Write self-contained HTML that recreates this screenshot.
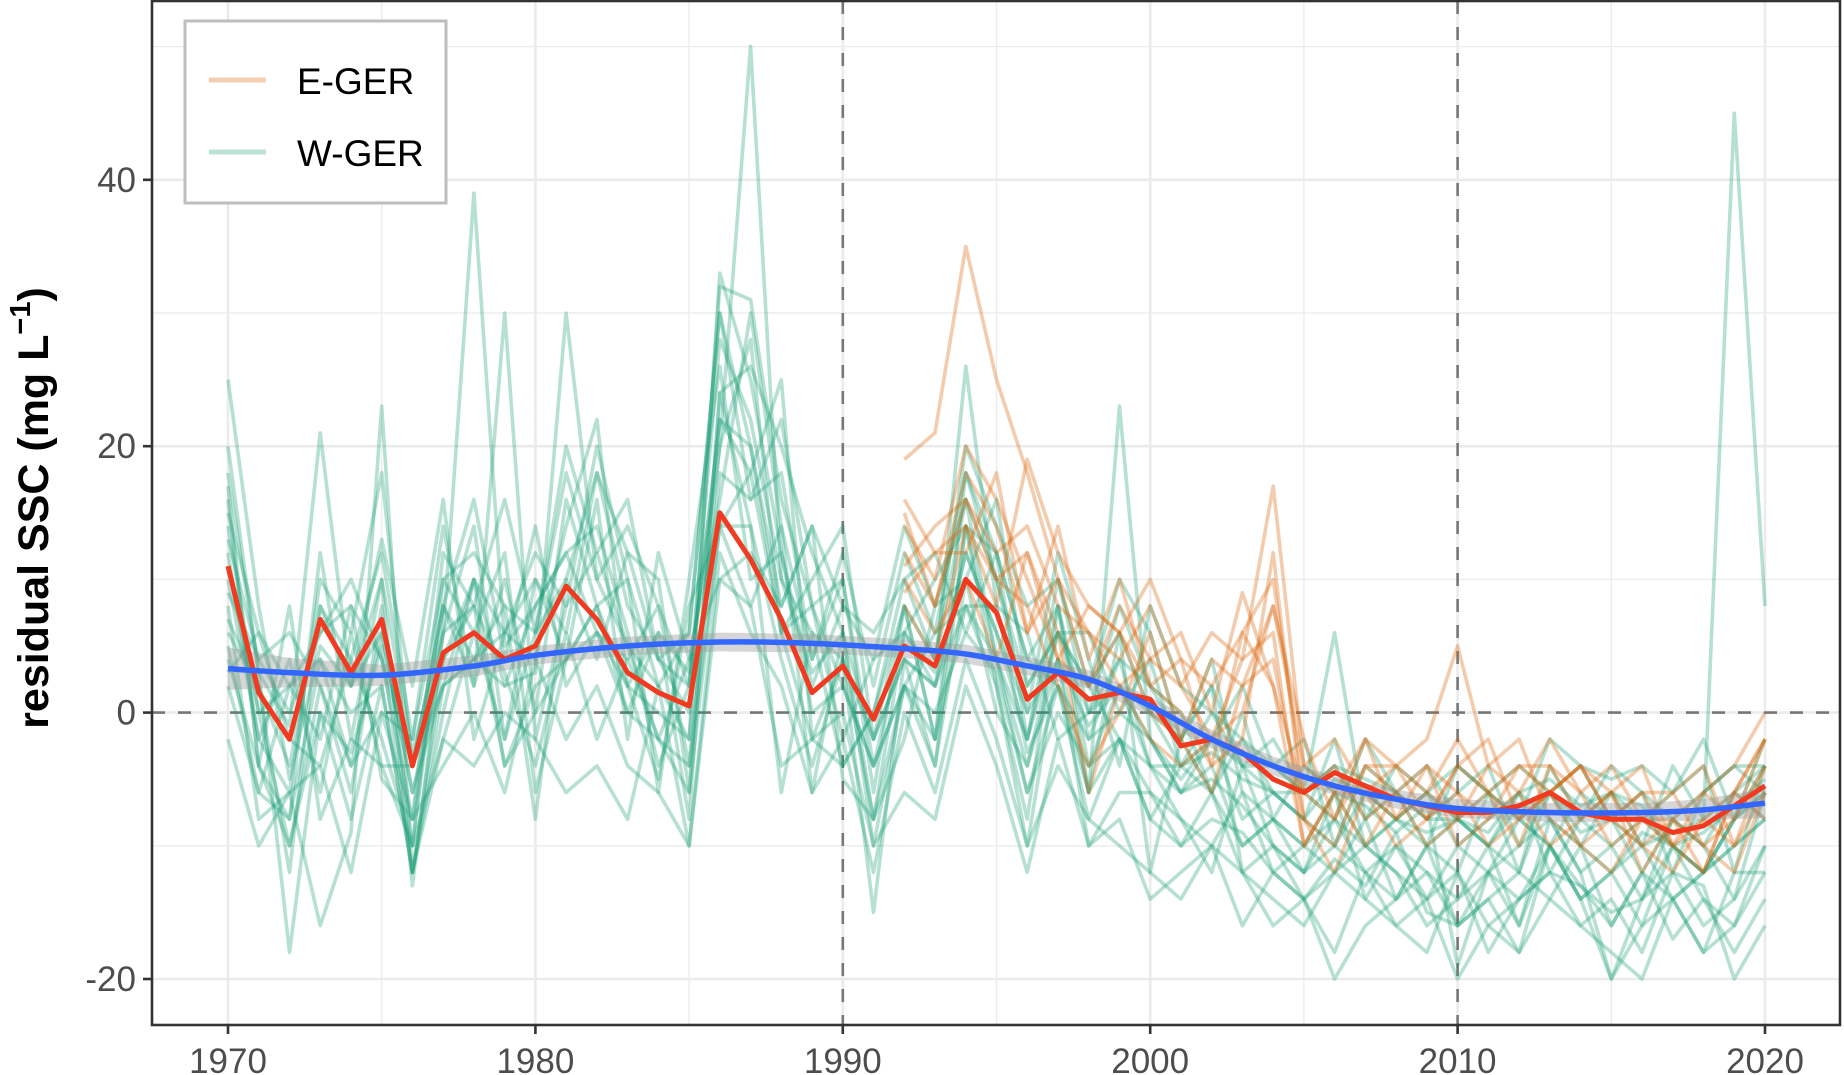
<!DOCTYPE html>
<html><head><meta charset="utf-8"><style>
html,body{margin:0;padding:0;background:#fff;}
svg{display:block;font-family:"Liberation Sans",Arial,sans-serif;}
</style></head><body>
<svg id="chart" width="1844" height="1075" viewBox="0 0 1844 1075" xmlns="http://www.w3.org/2000/svg">
<rect x="0" y="0" width="1844" height="1075" fill="#fff"/>
<g id="grid"></g>
<g id="refs"></g>
<g id="series"></g>
<g id="axes"></g>
<text transform="translate(48,508) rotate(-90)" text-anchor="middle" font-size="43" font-weight="bold" fill="#000">residual SSC (mg L<tspan font-size="29" dy="-18">−1</tspan><tspan dy="18">)</tspan></text>
<g>
<rect x="185" y="21" width="261" height="182" fill="#fff" stroke="#bebebe" stroke-width="3"/>
<g><line x1="209" y1="80" x2="266" y2="80" stroke="#d95f02" stroke-opacity="0.3" stroke-width="5"/><text x="297" y="94" font-size="37" fill="#000">E-GER</text></g>
<g><line x1="209" y1="152" x2="266" y2="152" stroke="#1b9e77" stroke-opacity="0.3" stroke-width="5"/><text x="297" y="166" font-size="37" fill="#000">W-GER</text></g>
</g>
</svg>
<script>
const xTicks=[1970,1980,1990,2000,2010,2020];
const yTicks=[-20,0,20,40];
const years=[];for(let y=1970;y<=2020;y++)years.push(y);
const eYears=[];for(let y=1992;y<=2020;y++)eYears.push(y);
const wSeries=[
[25,8,-5,5,2,10,-3,6,39,5,8,12,6,2,0,-2,20,50,10,3,6,-2,4,2,12,6,0,4,-1,2,0,-4,-3,-5,-6,-8,-5,-6,-8,-9,-8,-10,-7,-6,-9,-8,-10,-9,-8,45,8],
[18,3,-18,0,-3,5,-12,2,4,2,3,30,10,5,2,-2,33,25,12,0,2,-4,6,3,26,8,-3,2,-2,0,-2,-6,-5,-7,-10,-12,-8,-10,-12,-14,-12,-18,-14,-12,-13,-15,-14,-12,-13,-20,-16],
[12,-2,-6,10,6,18,-4,8,2,30,-2,8,12,5,-2,4,10,12,8,14,-5,-8,6,2,8,4,-2,6,0,4,2,-2,4,-6,-8,-10,-6,-7,-9,-7,-19,-12,-10,-8,-12,-20,-14,-10,-12,-8,-6],
[5,-6,2,-2,8,-5,-8,6,8,3,-4,6,-2,4,-2,-6,14,8,14,4,10,-4,2,0,6,3,-6,0,-4,-2,-6,-10,-8,-9,-12,-14,-11,-13,-9,-15,-16,-12,-14,-10,-13,-16,-12,-17,-14,-16,-10],
[20,3,-1,21,2,13,2,16,-2,6,4,14,22,2,-5,8,14,18,25,-2,-4,0,10,12,6,12,4,2,-6,23,-2,-5,-2,-4,-6,-6,-4,-5,-6,-8,-8,-9,-6,-5,-7,-6,-7,-10,-9,-7,-5],
[8,-8,-6,-16,-9,23,-12,0,10,-4,2,4,8,0,6,3,20,28,6,-2,4,-15,4,-4,14,2,-8,8,-6,6,-12,-2,2,-12,-16,-14,-20,-16,-14,-12,-16,-14,-18,-10,-14,-20,-16,-14,-12,-8,-6],
[15,6,2,4,-4,0,-2,10,12,8,6,10,18,8,4,6,30,20,6,8,2,-4,2,6,8,8,6,-2,0,2,-4,-6,-2,2,-4,-6,6,-8,-4,-6,-4,-6,-8,-2,-4,-5,-4,-6,-2,-8,-2],
[4,-4,8,-8,-2,-4,-4,2,4,8,-8,10,4,12,10,-6,24,14,-6,6,4,-2,8,-2,14,4,-4,6,2,-2,-8,-4,-6,-10,-8,-10,-12,-8,-14,-10,-8,-10,-12,-6,-10,-12,-9,-10,-12,-10,-8],
[10,-2,4,-6,6,-4,-10,8,16,4,14,2,6,4,8,-4,18,16,18,4,12,2,12,6,18,10,0,12,4,-4,8,2,0,-4,-2,-6,-8,-2,-6,-10,-4,-6,-12,-4,-8,-10,-8,-6,-4,-12,-4],
[2,-6,-8,4,0,2,-12,-2,-4,0,-2,-6,-4,-8,2,-10,12,6,2,-6,-2,-12,0,-6,4,-2,-10,-4,-8,-10,-12,-14,-10,-12,-14,-16,-12,-14,-16,-18,-12,-16,-14,-12,-16,-14,-18,-12,-16,-14,-10],
[6,2,-4,8,2,6,-6,4,10,2,8,12,14,6,-4,2,22,18,6,10,14,-2,4,2,12,6,-2,8,-2,4,-4,-4,-2,-8,-6,-8,-10,-6,-8,-10,-12,-6,-8,-10,-6,-8,-12,-8,-10,-6,-8],
[9,4,0,6,10,4,-8,12,8,16,6,18,10,14,8,2,28,22,10,6,-4,0,8,4,20,14,8,10,2,6,0,-2,-6,0,-8,-4,-6,-10,-8,-6,-10,-8,-6,-12,-8,-6,-10,-4,-8,-6,-4],
[14,0,-10,2,-6,8,-10,-2,6,-2,10,4,16,-2,12,4,16,30,14,-6,6,-8,-2,8,16,4,-6,2,-8,-2,-4,-8,-12,-4,-10,-12,-6,-14,-10,-12,-14,-10,-16,-8,-12,-10,-14,-8,-10,-14,-6],
[3,6,-2,-4,4,12,-2,14,2,10,0,16,8,10,-6,10,26,10,12,2,8,4,14,8,10,16,2,6,6,0,4,-4,0,-2,-4,-2,-10,-4,-6,-8,-6,-4,-10,-6,-4,-8,-6,-12,-6,-4,-6],
[16,-4,-8,12,-2,10,-13,6,14,-2,6,20,12,16,4,0,32,31,16,8,10,-6,8,-2,18,12,4,8,-4,2,-2,-6,-4,-10,-8,-12,-10,-12,-14,-10,-16,-14,-12,-14,-10,-16,-12,-14,-18,-12,-12],
[7,2,-12,8,4,-2,-10,10,6,12,-6,4,8,2,6,-8,24,26,20,12,6,-10,2,-4,10,0,-4,4,-10,-6,-6,-8,-10,-6,-12,-10,-8,-12,-10,-14,-10,-12,-8,-10,-14,-12,-10,-14,-12,-10,-8],
[13,4,6,2,-4,6,-6,2,10,6,12,8,20,10,2,6,30,16,22,8,-2,4,6,10,14,12,-2,10,0,8,2,0,-6,-2,-6,-8,-2,-10,-8,-6,-8,-10,-6,-8,-10,-6,-8,-10,-12,-8,-4],
[-2,-10,-6,-4,-12,0,-8,-4,0,-6,4,-2,2,-4,-6,-10,10,8,-4,-2,0,-10,-6,-8,2,-4,-12,-2,-10,-8,-14,-12,-10,-16,-12,-14,-18,-12,-16,-14,-20,-16,-18,-14,-16,-18,-20,-14,-18,-16,-12],
[11,0,2,6,8,4,-4,8,4,6,10,6,18,12,4,2,22,20,8,14,8,6,10,4,16,10,2,6,2,10,6,-2,2,-4,-4,-6,-4,-8,-6,-4,-8,-6,-4,-6,-8,-4,-6,-8,-6,-4,-4],
[17,-4,-10,0,-8,2,-12,4,8,-4,0,4,6,0,-2,-4,14,14,4,-4,4,-8,2,-2,8,2,-10,4,-6,-2,-8,-10,-6,-12,-10,-14,-12,-10,-12,-16,-14,-12,-16,-10,-14,-12,-16,-10,-14,-18,-14]
];
const eSeries=[
[19,21,35,25,18,10,6,4,8,2,6,4,17,-4,-2,-6,-4,-2,5,-4,-6,-2,-6,-4,-8,-10,-6,-4,0],
[16,12,14,8,19,12,8,6,10,4,2,6,10,-6,-8,-4,-6,-8,-4,-2,-8,-6,-4,-8,-6,-10,-12,-6,-2],
[12,8,18,14,6,14,4,10,2,0,-4,-2,12,-8,-12,-6,-8,-4,-10,-8,-6,-10,-8,-6,-12,-8,-10,-8,-4],
[10,6,10,4,12,6,-6,2,-2,-4,-2,4,6,-10,-6,-10,-6,-10,-8,-4,-2,-8,-10,-12,-8,-6,-4,-10,-6],
[14,10,20,16,10,4,2,8,4,2,-2,0,8,-4,-6,-2,-8,-6,-2,-6,-4,-4,-6,-10,-8,-8,-12,-6,-2],
[8,4,14,10,8,2,-4,0,6,-2,-6,2,4,-8,-10,-4,-4,-8,-6,-10,-8,-6,-10,-8,-10,-12,-8,-10,-4],
[11,14,16,12,14,8,6,2,4,6,0,9,2,-6,-4,-8,-6,-4,-6,-8,-4,-6,-4,-6,-10,-8,-6,-8,-2],
[9,12,12,18,6,10,2,6,0,-2,4,2,8,-2,-8,-2,-4,-6,-8,-6,-10,-4,-8,-6,-4,-10,-8,-6,-8],
[15,8,16,10,12,4,8,6,2,4,-4,6,2,-10,-6,-6,-10,-8,-4,-6,-8,-6,-4,-8,-6,-6,-10,-12,-6]
];
const meanValues=[11,1.5,-2,7,3,7,-4,4.5,6,4,5,9.5,7,3,1.5,0.5,15,11.5,7,1.5,3.5,-0.5,5,3.5,10,7.5,1,3,1,1.5,1,-2.5,-2,-3,-5,-6,-4.5,-5.5,-6.5,-7,-7.5,-7.5,-7,-6,-7.5,-8,-8,-9,-8.5,-7,-5.5];
const smoothYears=[1970,1972,1975,1978,1980,1983,1986,1989,1992,1994,1996,1998,2000,2002,2004,2006,2008,2010,2013,2016,2018,2020];
const smoothValues=[3.3,3,2.8,3.5,4.3,5,5.3,5.2,4.8,4.4,3.5,2.5,0.5,-2,-4,-5.5,-6.5,-7.2,-7.5,-7.5,-7.3,-6.8];
const smoothSE=[1.6,1.1,0.8,0.8,0.7,0.7,0.7,0.7,0.7,0.7,0.7,0.7,0.7,0.7,0.7,0.7,0.7,0.7,0.7,0.7,0.8,1.1];

const L=152,R=1840,T=1,B=1025;
const X=y=>228+(y-1970)*(1765-228)/50;
const Y=v=>712.6-v*13.32;
const NS='http://www.w3.org/2000/svg';
function mk(tag,attrs,parent){const e=document.createElementNS(NS,tag);for(const k in attrs)e.setAttribute(k,attrs[k]);parent.appendChild(e);return e;}
const grid=document.getElementById('grid'),refs=document.getElementById('refs'),ser=document.getElementById('series'),axes=document.getElementById('axes');
for(let y=1965;y<=2025;y+=10){if(X(y)<L||X(y)>R)continue;const l=mk('line',{x1:X(y),x2:X(y),y1:T,y2:B,stroke:'#ebebeb','stroke-width':1.3},grid);

}
for(let v=-30;v<=50;v+=20){if(Y(v)<T||Y(v)>B)continue;const l=mk('line',{x1:L,x2:R,y1:Y(v),y2:Y(v),stroke:'#ebebeb','stroke-width':1.3},grid);

}
xTicks.forEach(t=>{const l=mk('line',{x1:X(t),x2:X(t),y1:T,y2:B,stroke:'#ebebeb','stroke-width':2.6},grid);

});
yTicks.forEach(t=>{const l=mk('line',{x1:L,x2:R,y1:Y(t),y2:Y(t),stroke:'#ebebeb','stroke-width':2.6},grid);

});
function pathFrom(xs,vs){let d='',pen=false;vs.forEach((v,i)=>{if(v==null){pen=false;return;}d+=(pen?'L':'M')+X(xs[i]).toFixed(1)+','+Y(v).toFixed(1);pen=true;});return d;}
wSeries.forEach((s,i)=>{const p=mk('path',{d:pathFrom(years,s),fill:'none',stroke:'#1b9e77','stroke-opacity':0.32,'stroke-width':3.6,'stroke-linejoin':'round'},ser);

});
eSeries.forEach((s,i)=>{const p=mk('path',{d:pathFrom(eYears,s),fill:'none',stroke:'#d95f02','stroke-opacity':0.32,'stroke-width':3.6,'stroke-linejoin':'round'},ser);

});
[1990,2010].forEach(y=>{const l=mk('line',{x1:X(y),x2:X(y),y1:T,y2:B,stroke:'#777','stroke-width':2.6,'stroke-dasharray':'13,13'},refs);

});
{const l=mk('line',{x1:L,x2:R,y1:Y(0),y2:Y(0),stroke:'#777','stroke-width':2.6,'stroke-dasharray':'13,13'},refs);

}
{let d='';smoothYears.forEach((y,i)=>{d+=(i?'L':'M')+X(y)+','+Y(smoothValues[i]+smoothSE[i]);});
for(let i=smoothYears.length-1;i>=0;i--)d+='L'+X(smoothYears[i])+','+Y(smoothValues[i]-smoothSE[i]);d+='Z';
const r=mk('path',{d:d,fill:'#999','fill-opacity':0.4},ser);

}
{const p=mk('path',{d:pathFrom(years,meanValues),fill:'none',stroke:'#f03b20','stroke-width':5,'stroke-linejoin':'round'},ser);

}
{const pts=smoothYears.map((y,i)=>[X(y),Y(smoothValues[i])]);let d='M'+pts[0];
for(let i=0;i<pts.length-1;i++){const p0=pts[Math.max(0,i-1)],p1=pts[i],p2=pts[i+1],p3=pts[Math.min(pts.length-1,i+2)];
d+='C'+(p1[0]+(p2[0]-p0[0])/6)+','+(p1[1]+(p2[1]-p0[1])/6)+' '+(p2[0]-(p3[0]-p1[0])/6)+','+(p2[1]-(p3[1]-p1[1])/6)+' '+p2;}
const p=mk('path',{d:d,fill:'none',stroke:'#3366ff','stroke-width':5.5},ser);

}
{const f=mk('rect',{x:L,y:T,width:R-L,height:B-T,fill:'none',stroke:'#333','stroke-width':2.6},axes);

}
xTicks.forEach(t=>{const l=mk('line',{x1:X(t),x2:X(t),y1:B,y2:B+9,stroke:'#333','stroke-width':2.6},axes);


const tx=mk('text',{x:X(t),y:1073,'text-anchor':'middle','font-size':35,fill:'#4d4d4d'},axes);tx.textContent=t;

});
yTicks.forEach(t=>{const l=mk('line',{x1:L-9,x2:L,y1:Y(t),y2:Y(t),stroke:'#333','stroke-width':2.6},axes);


const tx=mk('text',{x:L-16,y:Y(t)+12,'text-anchor':'end','font-size':35,fill:'#4d4d4d'},axes);tx.textContent=t;

});
</script>
</body></html>
